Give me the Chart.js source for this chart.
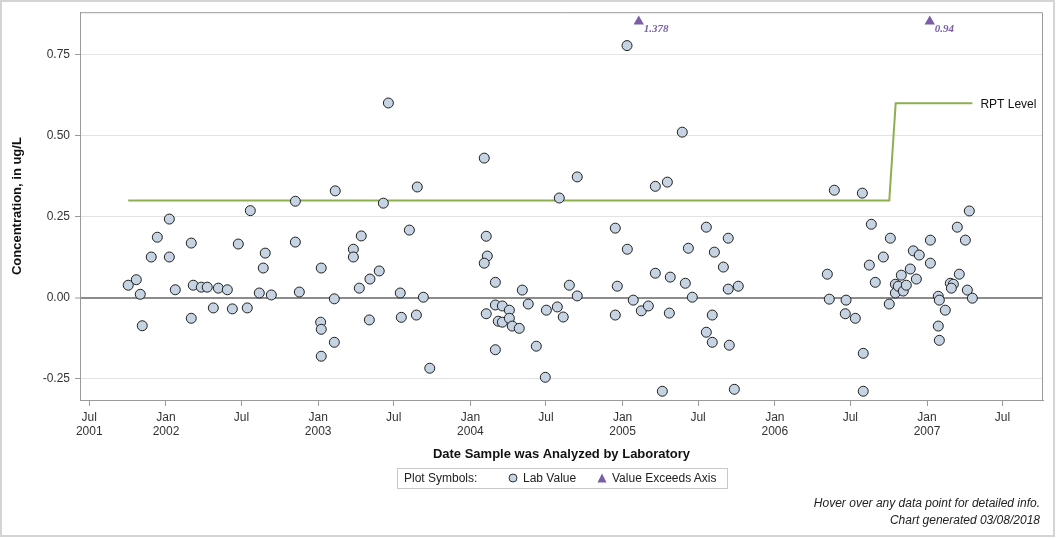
<!DOCTYPE html>
<html>
<head>
<meta charset="utf-8">
<script src="https://cdn.jsdelivr.net/npm/chart.js@4.4.0/dist/chart.umd.min.js"></script>
<style>
  body { margin: 0; background: #fff; font-family: "Liberation Sans", Arial, sans-serif; }
  #wrap { position: relative; width: 1056px; height: 538px; }
  #legend { position: absolute; left: 397px; top: 468px; width: 329px; height: 19px;
            border: 1px solid #c8c8c8; font-size: 12px; color: #222; }
  #legend span, #legend svg { position: absolute; top: 2px; white-space: nowrap; }
  #legend svg { top: 4px; }
  .note { position: absolute; right: 16px; font-size: 12px; font-style: italic; color: #222; white-space: nowrap; }
</style>
</head>
<body>
<div id="wrap">
  <canvas id="chart" width="1056" height="538"></canvas>
  <div id="legend">
    <span style="left:6px">Plot Symbols:</span>
    <svg style="left:110px" width="10" height="10"><circle cx="5" cy="5" r="4" fill="#c6d3e3" stroke="#333" stroke-width="1"/></svg>
    <span style="left:125px">Lab Value</span>
    <svg style="left:199px" width="10" height="10"><polygon points="5,0.5 9.5,9.5 0.5,9.5" fill="#7b5ea7"/></svg>
    <span style="left:214px">Value Exceeds Axis</span>
  </div>
  <div class="note" style="top:496px">Hover over any data point for detailed info.</div>
  <div class="note" style="top:513px">Chart generated 03/08/2018</div>
</div>
<script>
// sample dates (decimal year) and lab values, ug/L
var sampleYears = [
  2001.752, 2001.805, 2001.831, 2001.844, 2001.903, 2001.943, 2002.022, 2002.022, 2002.061, 2002.166,
  2002.179, 2002.166, 2002.232, 2002.271, 2002.311, 2002.344, 2002.403, 2002.436, 2002.475, 2002.534,
  2002.554, 2002.613, 2002.639, 2002.652, 2002.692, 2002.850, 2002.850, 2002.876, 2003.016, 2003.020,
  2003.020, 2003.020, 2003.106, 2003.106, 2003.112, 2003.231, 2003.231, 2003.283, 2003.270, 2003.336,
  2003.340, 2003.401, 2003.428, 2003.461, 2003.539, 2003.546, 2003.599, 2003.651, 2003.645, 2003.691,
  2003.733, 2004.091, 2004.104, 2004.111, 2004.091, 2004.164, 2004.164, 2004.104, 2004.210, 2004.183,
  2004.210, 2004.256, 2004.256, 2004.275, 2004.321, 2004.164, 2004.341, 2004.380, 2004.433, 2004.492,
  2004.499, 2004.571, 2004.584, 2004.610, 2004.650, 2004.702, 2004.702, 2004.952, 2004.965, 2004.952,
  2005.031, 2005.029, 2005.070, 2005.123, 2005.169, 2005.215, 2005.215, 2005.261, 2005.294, 2005.307,
  2005.313, 2005.392, 2005.412, 2005.432, 2005.458, 2005.550, 2005.550, 2005.589, 2005.589, 2005.603,
  2005.662, 2005.694, 2005.694, 2005.701, 2005.734, 2005.760, 2006.345, 2006.358, 2006.391, 2006.468,
  2006.463, 2006.529, 2006.575, 2006.581, 2006.581, 2006.621, 2006.634, 2006.660, 2006.713, 2006.752,
  2006.759, 2006.792, 2006.792, 2006.811, 2006.831, 2006.844, 2006.864, 2006.890, 2006.910, 2006.930,
  2006.949, 2007.022, 2007.022, 2007.074, 2007.081, 2007.120, 2007.074, 2007.081, 2007.199, 2007.252,
  2007.278, 2007.212, 2007.153, 2007.173, 2007.160, 2007.265, 2007.298
];
var sampleValues = [
  0.039, 0.056, 0.011, -0.086, 0.126, 0.187, 0.243, 0.126, 0.025, 0.169,
  0.039, -0.063, 0.033, 0.033, -0.031, 0.030, 0.025, -0.034, 0.166, -0.031,
  0.269, 0.015, 0.092, 0.138, 0.009, 0.298, 0.172, 0.018, -0.075, -0.097,
  0.092, -0.180, -0.003, -0.137, 0.330, 0.150, 0.126, 0.191, 0.030, -0.068,
  0.058, 0.083, 0.292, 0.601, 0.015, -0.060, 0.209, 0.342, -0.053, 0.002,
  -0.217, 0.431, 0.190, 0.129, 0.107, 0.048, -0.022, -0.049, -0.025, -0.072,
  -0.075, -0.038, -0.063, -0.087, -0.094, -0.160, 0.024, -0.019, -0.149, -0.245,
  -0.038, -0.028, 0.308, -0.059, 0.039, 0.373, 0.006, 0.215, 0.036, -0.053,
  0.150, 0.778, -0.007, -0.040, -0.025, 0.344, 0.076, -0.288, 0.357, -0.047,
  0.064, 0.511, 0.045, 0.153, 0.002, 0.218, -0.106, -0.053, -0.137, 0.141,
  0.095, 0.184, 0.027, -0.146, -0.282, 0.036, 0.073, -0.004, 0.332, -0.007,
  -0.049, -0.063, 0.323, -0.171, -0.288, 0.101, 0.227, 0.048, 0.126, -0.019,
  0.184, 0.042, 0.015, 0.036, 0.070, 0.021, 0.039, 0.089, 0.145, 0.058,
  0.132, 0.178, 0.107, 0.005, -0.007, -0.038, -0.087, -0.131, 0.218, 0.178,
  0.268, 0.073, 0.045, 0.042, 0.030, 0.024, -0.001
];

// reporting level step line
var rptYears = [2001.752, 2006.752, 2006.794, 2007.298];
var rptValues = [0.30, 0.30, 0.60, 0.60];

// values above the axis, drawn as triangles at the cap
var exceedYears = [2005.106, 2007.018];
var exceedValues = [1.378, 0.94];
var axisCap = 0.852;

var xMin = 2001.435, xMax = 2007.762;
var yMin = -0.315, yMax = 0.881;
var xTickPos = [2001.496, 2002, 2002.496, 2003, 2003.496, 2004, 2004.496, 2005, 2005.496, 2006, 2006.496, 2007, 2007.496];
var xTickLabels = [['Jul', '2001'], ['Jan', '2002'], 'Jul', ['Jan', '2003'], 'Jul', ['Jan', '2004'], 'Jul',
                   ['Jan', '2005'], 'Jul', ['Jan', '2006'], 'Jul', ['Jan', '2007'], 'Jul'];
var yTickVals = [-0.25, 0, 0.25, 0.5, 0.75];

Chart.defaults.font.family = '"Liberation Sans", Arial, sans-serif';
Chart.defaults.font.size = 12;
Chart.defaults.color = '#333';

var extras = {
  id: 'extras',
  beforeDraw: function (chart) {
    var c = chart.ctx;
    c.save();
    c.strokeStyle = '#d4d4d4';
    c.lineWidth = 2;
    c.strokeRect(1, 1, 1053, 535);
    c.restore();
  },
  afterDraw: function (chart) {
    var c = chart.ctx, a = chart.chartArea;
    c.save();
    c.strokeStyle = '#9a9a9a';
    c.lineWidth = 1;
    c.beginPath();
    c.moveTo(a.left, a.top + 0.5);
    c.lineTo(a.right - 0.5, a.top + 0.5);
    c.lineTo(a.right - 0.5, a.bottom);
    c.stroke();

    var rpt = chart.getDatasetMeta(1).data;
    var last = rpt[rpt.length - 1];
    c.fillStyle = '#111';
    c.font = '12px "Liberation Sans", Arial, sans-serif';
    c.textBaseline = 'middle';
    c.fillText('RPT Level', last.x + 8, last.y + 1);

    var tri = chart.getDatasetMeta(2).data;
    c.fillStyle = '#7b5ea7';
    c.font = 'italic bold 11px "Liberation Serif", "DejaVu Serif", serif';
    for (var i = 0; i < tri.length; i++) {
      c.fillText(String(exceedValues[i]), tri[i].x + 5, tri[i].y + 8);
    }
    c.restore();
  }
};

var ctx = document.getElementById('chart').getContext('2d');

var myChart = new Chart(ctx, {
  type: 'scatter',
  data: {
    datasets: [{
      label: 'Lab Value',
      data: sampleYears.map(function (t, i) { return { x: t, y: sampleValues[i] }; }),
      pointStyle: 'circle',
      pointRadius: 5,
      pointBackgroundColor: '#c6d3e3',
      pointBorderColor: '#1e1e1e',
      pointBorderWidth: 1
    }, {
      label: 'RPT Level',
      data: rptYears.map(function (t, i) { return { x: t, y: rptValues[i] }; }),
      showLine: true,
      borderColor: '#8daf4f',
      borderWidth: 2,
      pointRadius: 0,
      fill: false
    }, {
      label: 'Value Exceeds Axis',
      data: exceedYears.map(function (t) { return { x: t, y: axisCap }; }),
      pointStyle: 'triangle',
      pointRadius: 6,
      pointBackgroundColor: '#7b5ea7',
      pointBorderColor: '#7b5ea7',
      pointBorderWidth: 0
    }]
  },
  options: {
    responsive: false,
    animation: false,
    events: [],
    layout: { padding: { left: 0, right: 13, top: 12, bottom: 76 } },
    plugins: { legend: { display: false }, tooltip: { enabled: false } },
    scales: {
      x: {
        type: 'linear',
        min: xMin,
        max: xMax,
        afterBuildTicks: function (s) { s.ticks = xTickPos.map(function (v) { return { value: v }; }); },
        afterFit: function (s) { s.height = 62; },
        ticks: {
          autoSkip: false, maxRotation: 0, padding: 4, color: '#333',
          callback: function (v, i) { return xTickLabels[i]; }
        },
        grid: { drawOnChartArea: false, drawTicks: true, tickLength: 6, tickColor: '#9a9a9a', tickWidth: 1 },
        border: { color: '#9a9a9a', width: 1 },
        title: {
          display: true, text: 'Date Sample was Analyzed by Laboratory', color: '#111',
          font: { size: 13, weight: 'bold' }, padding: { top: 4, bottom: 0 }
        }
      },
      y: {
        min: yMin,
        max: yMax,
        afterBuildTicks: function (s) { s.ticks = yTickVals.map(function (v) { return { value: v }; }); },
        afterFit: function (s) { s.width = 80; },
        ticks: { padding: 5, color: '#333', callback: function (v) { return v.toFixed(2); } },
        grid: {
          color: function (c) { return c.tick && c.tick.value === 0 ? '#8c8c8c' : '#e3e3e3'; },
          lineWidth: function (c) { return c.tick && c.tick.value === 0 ? 2 : 1; },
          tickColor: '#9a9a9a', tickLength: 5, tickWidth: 1
        },
        border: { color: '#9a9a9a', width: 1 },
        title: {
          display: true, text: 'Concentration, in ug/L', color: '#111',
          font: { size: 13, weight: 'bold' }, padding: { top: 10, bottom: 0 }
        }
      }
    }
  },
  plugins: [extras]
});
</script>
</body>
</html>
